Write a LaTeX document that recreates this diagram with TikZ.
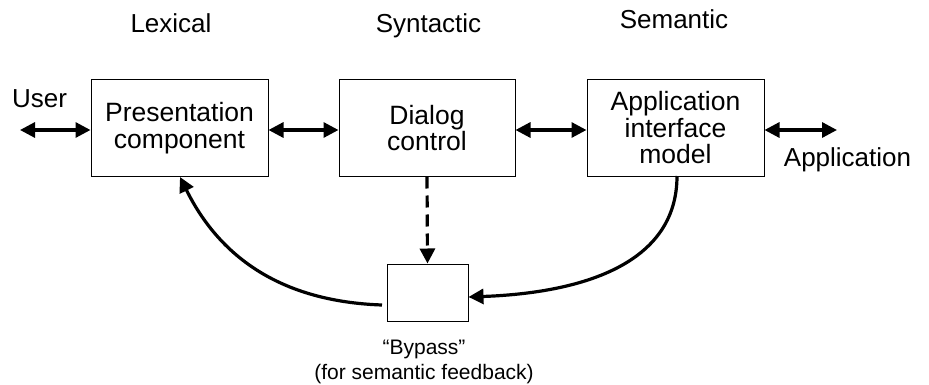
\documentclass[tikz,border=0pt]{standalone}
\usepackage{fontspec}
\setmainfont{Liberation Sans}
\usetikzlibrary{arrows.meta}
\begin{document}
\begin{tikzpicture}[x=1pt,y=-1pt,
  box/.style={draw,line width=1pt,minimum width=177pt,minimum height=96pt,inner sep=0pt,align=center,font=\fontsize{26.5}{26.5}\selectfont},
  lbl/.style={inner sep=0pt,anchor=base,align=center,font=\fontsize{26}{26}\selectfont},
  conn/.style={line width=3.2pt,-{Triangle[length=15pt,width=15pt]}},
  both/.style={line width=3.2pt,{Triangle[length=15pt,width=15pt]}-{Triangle[length=15pt,width=15pt]}}]
\useasboundingbox (0,0) rectangle (929,385);
\node[box] (pres) at (179.5,128) {Presentation\\component};
\node[box,minimum width=176pt] (dlg) at (427,128) {Dialog\\control};
\node[box] (app) at (675.5,128) {Application\\interface\\model};
\node[draw,line width=1pt,minimum width=81pt,minimum height=57pt,inner sep=0pt] (byp) at (427.5,292.5) {};
\node[lbl] (lex) at (171,33) {Lexical};
\node[lbl] (syn) at (428.5,33) {Syntactic};
\node[lbl] (sem) at (674,29) {Semantic};
\node[lbl] (user) at (39.5,108) {User};
\node[lbl] (appl) at (847.5,166) {Application};
\node[lbl,font=\fontsize{21}{25}\selectfont] (bl) at (424,379) {``Bypass''\\(for semantic feedback)};
\coordinate (u) at (20,130);
\coordinate (a) at (837,130);
\draw[both] (u) -- (pres.west |- u);
\draw[both] (pres.east |- u) -- (dlg.west |- u);
\draw[both] (dlg.east |- u) -- (app.west |- u);
\draw[both] (app.east |- u) -- (a);
\draw[conn,dash pattern=on 12pt off 7pt] (dlg.south) -- (byp.north);
\coordinate (as) at (677,176);
\draw[conn] (as) .. controls (677,265) and (580,293) .. (byp.east |- 0,297);
\coordinate (bl0) at (382,305);
\coordinate (pe) at (180,177);
\draw[conn] (bl0) .. controls (295,302) and (225,268) .. (pe);
\end{tikzpicture}
\end{document}
